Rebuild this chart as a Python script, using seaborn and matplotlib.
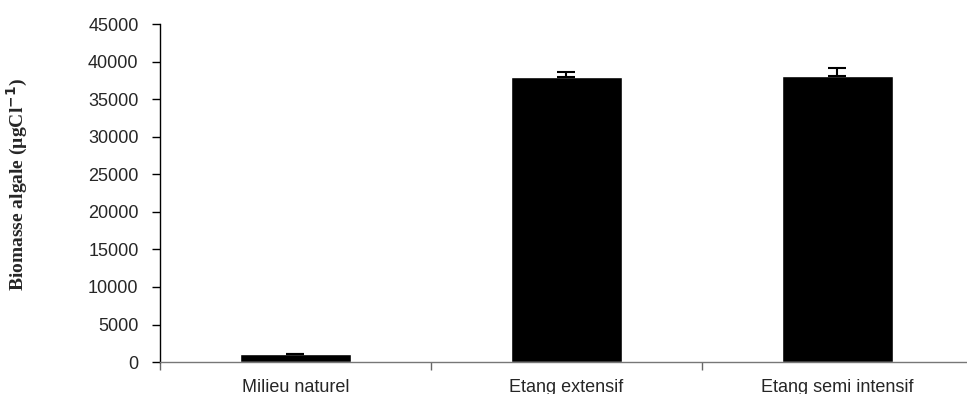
import numpy as np
import pandas as pd
import seaborn as sns
import matplotlib.pyplot as plt

# Values
sites = ["Milieu naturel", "Etang extensif", "Etang semi intensif"]
biomass = [1050, 37900, 38100]
biomass_err = [15, 650, 1000]

sns.set_theme(style="white")
plt.rcParams['font.family'] = ['Liberation Sans', 'DejaVu Sans']

df = pd.DataFrame({"site": sites, "biomass": biomass})

fig = plt.figure(figsize=(9.67, 3.94), dpi=100)
ax = fig.add_axes([0.1655, 0.081, 0.8345, 0.858])

sns.barplot(data=df, x="site", y="biomass", color="black", saturation=1,
            width=0.41, errorbar=None, ax=ax)

# Excel-style upper error bars only
xpos = np.arange(len(sites))
ax.errorbar(xpos, biomass, yerr=[np.zeros(len(sites)), biomass_err],
            fmt="none", ecolor="black", elinewidth=1.5, capsize=6.4, capthick=1.5)

ax.set_xlim(-0.5, 2.48)
ax.set_ylim(0, 45000)
ax.set_yticks(range(0, 45001, 5000))
ax.tick_params(axis="y", labelsize=13, length=5.5, direction="out", left=True,
               width=1, color="black", pad=10)
# ticks between categories, labels centred under bars
ax.set_xticks([-0.5, 0.5, 1.5])
ax.set_xticklabels([])
ax.set_xticks(xpos, minor=True)
ax.set_xticklabels(sites, minor=True, fontsize=13)
ax.tick_params(axis="x", which="major", length=6, direction="out", bottom=True,
               color="#666666", width=1)
ax.tick_params(axis="x", which="minor", length=0, pad=12)

ax.set_xlabel("")
ax.set_ylabel("Biomasse algale (µgCl$^{\\mathbf{-1}}$)", family="Liberation Serif",
              fontweight="bold", fontsize=14)
ax.yaxis.set_label_coords(-0.161, 0.525)

for s in ["top", "right"]:
    ax.spines[s].set_visible(False)
ax.spines["left"].set_color("black")
ax.spines["left"].set_linewidth(1)
ax.spines["bottom"].set_color("#777777")
ax.spines["bottom"].set_linewidth(1)

fig.savefig("out.png", dpi=100)
